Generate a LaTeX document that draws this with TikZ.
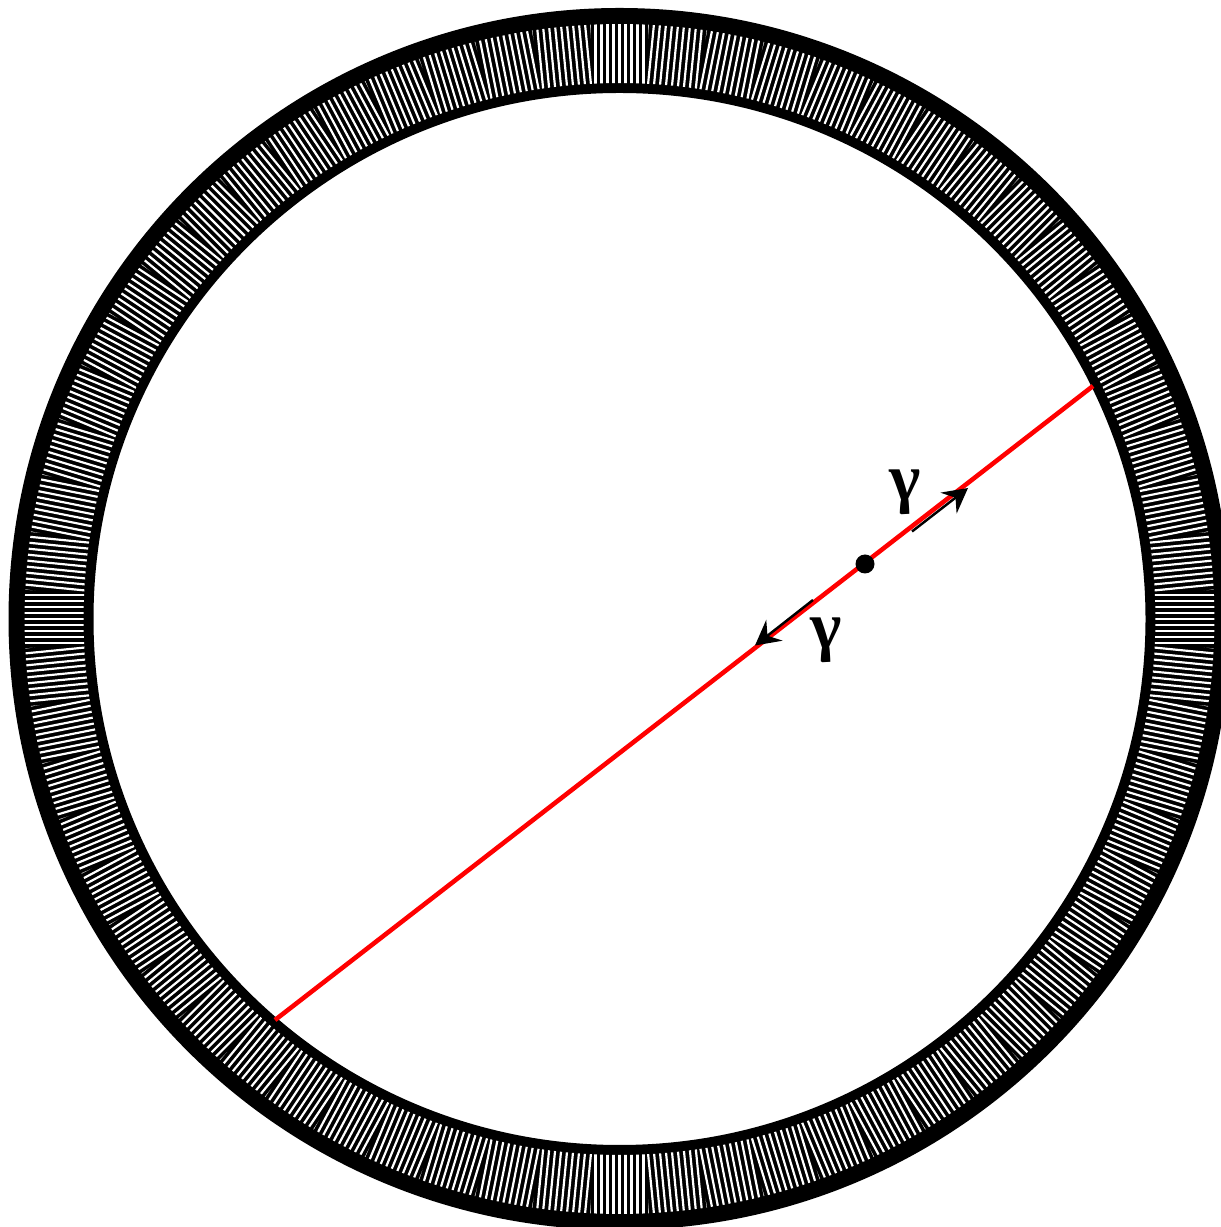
\documentclass[tikz,border=0pt]{standalone}
\usepackage{fontspec}
\newfontfamily\greekfont{Liberation Serif}
\usetikzlibrary{arrows.meta}

\tikzset{
  hatchline/.style={white, line width=0.62pt},
  ray/.style={red, line width=1.3pt},
  flow/.style={black, line width=0.7pt, -{Stealth[length=7pt,width=7.5pt,inset=2.5pt]}},
  glabel/.style={font=\greekfont\bfseries\fontsize{19}{22}\selectfont, inner sep=0pt},
  dot/.style={circle, fill=black, inner sep=0pt, minimum size=5.4pt},
}

\begin{document}
\begin{tikzpicture}[x=0.01cm,y=0.01cm]
    \useasboundingbox (0,0) rectangle (1221,1227);
    \coordinate (C) at (619.5,608);

    % Ring
    \fill[even odd rule] (C) circle (611) (C) circle (526);

    % Hatching, one wedge at a time
    \foreach \k in {0,...,63}{
      \begin{scope}[shift={(C)}, rotate=\k*5.625]
        \clip (-2.8125:536) -- (-2.8125:595)
          arc[start angle=-2.8125, end angle=2.8125, radius=595]
          -- (2.8125:536)
          arc[start angle=2.8125, end angle=-2.8125, radius=536] -- cycle;
        \foreach \j in {-5,...,5}
          \draw[hatchline] (520,\j*6) -- (610,\j*6);
      \end{scope}
    }

    % Chord
    \coordinate (A) at (275,207);
    \coordinate (B) at (1093,841);
    \draw[ray] (A) -- (B);

    % Point
    \node[dot] (O) at (865,663) {};

    % Directions
    \coordinate (t1) at (912,695.5);
    \coordinate (h1) at (968,739);
    \coordinate (t2) at (813,627);
    \coordinate (h2) at (755,581.5);
    \draw[flow] (t1) -- (h1);
    \draw[flow] (t2) -- (h2);

    % Labels
    \node[glabel] (g1) at (905,735) {γ};
    \node[glabel] (g2) at (826,587) {γ};
\end{tikzpicture}
\end{document}
